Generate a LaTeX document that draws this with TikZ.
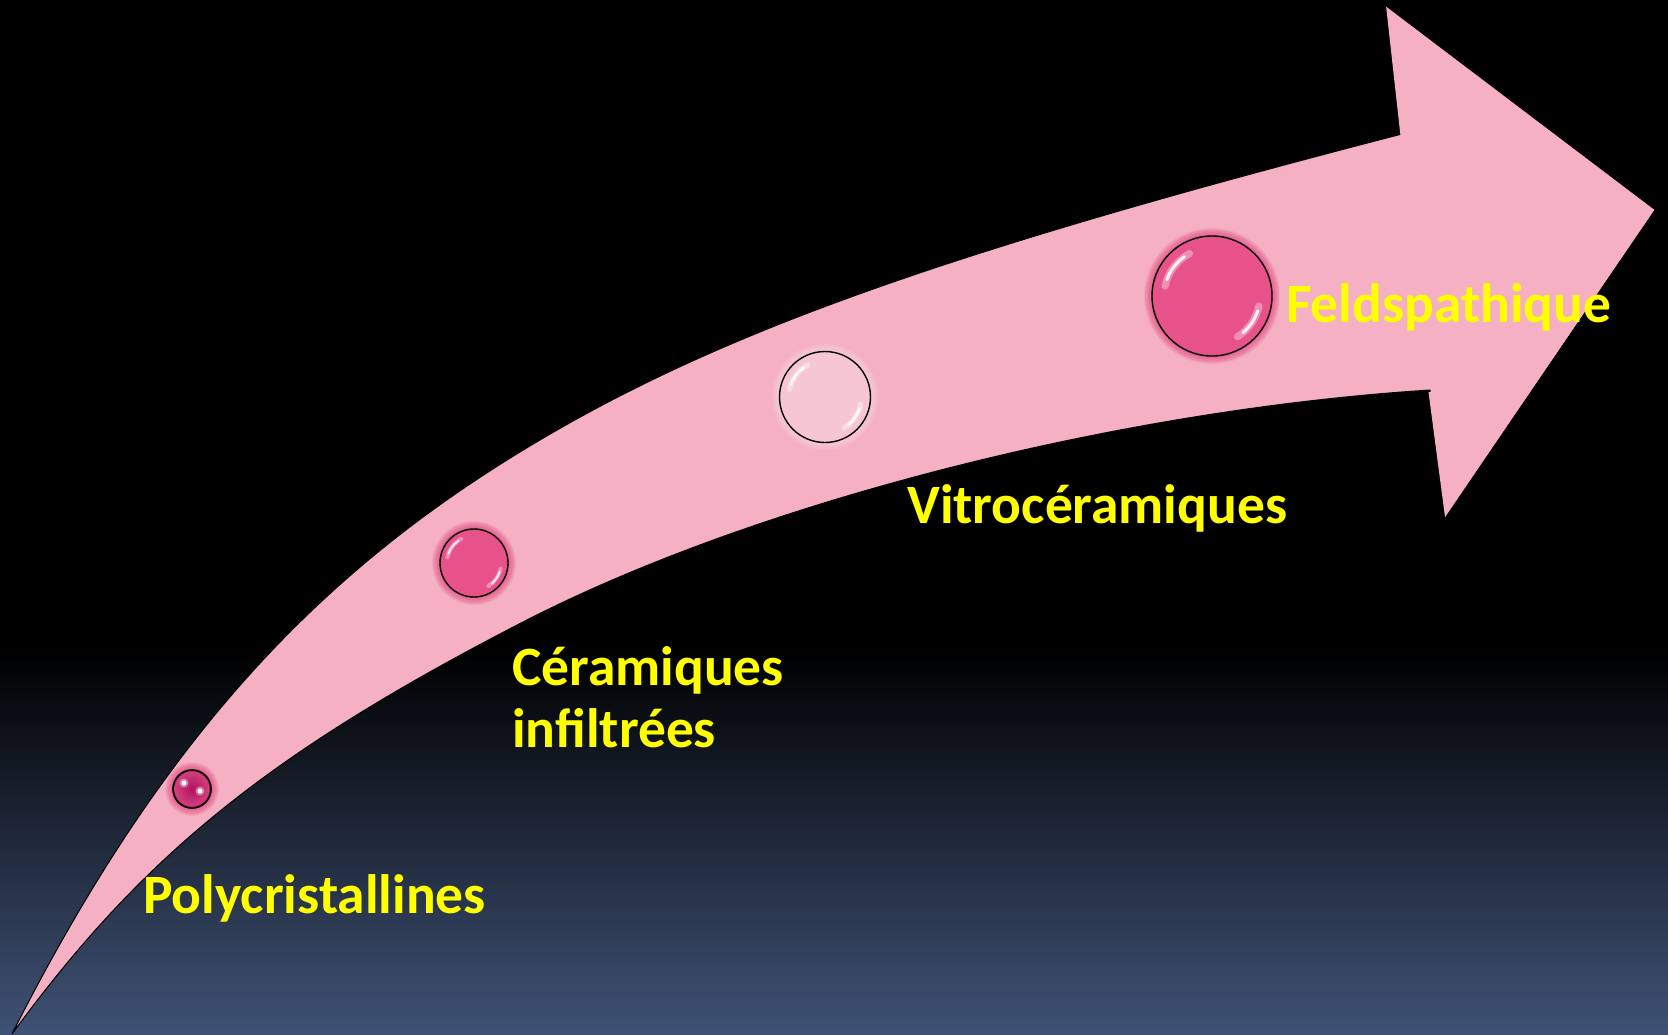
\documentclass[tikz,border=0pt]{standalone}
\usepackage{fontspec}
\setmainfont{Carlito}
\definecolor{arrowpink}{HTML}{F5B1C3}
\definecolor{bgbot}{HTML}{3F5275}
\definecolor{txtyellow}{HTML}{FFFF00}
\definecolor{beadA}{HTML}{B3115D}
\definecolor{beadAr}{HTML}{D0407F}
\definecolor{beadB}{HTML}{E8528A}
\definecolor{beadC}{HTML}{F6C7D1}
\definecolor{glowdark}{HTML}{E2457F}
\definecolor{glowlight}{HTML}{F9D5DE}
\tikzset{
  lbl/.style={text=txtyellow, font=\fontsize{55.5}{62}\selectfont\bfseries, inner sep=0pt, anchor=base west},
  hilite/.style={white, line cap=round},
}
\newcommand\mybead[4]{% center, radius, fill colour, glow colour
  \begin{scope}[shift={#1}]
    \foreach \k in {1,...,8} {\fill[#4, opacity=0.13] (0,0) circle ({#2+\k});}
    \fill[#3] (0,0) circle (#2);
    \draw[black, line width=1.4pt] (0,0) circle (#2);
  \end{scope}
}
\newcommand\myarcs[2]{% center, radius : two white reflections
  \begin{scope}[shift={#1}]
    \draw[hilite, opacity=0.35, line width={0.12*#2}] (-118:{0.8*#2}) arc (-118:-168:{0.8*#2});
    \draw[hilite, opacity=0.9, line width={0.05*#2}] (-125:{0.8*#2}) arc (-125:-160:{0.8*#2});
    \draw[hilite, opacity=0.35, line width={0.12*#2}] (12:{0.8*#2}) arc (12:58:{0.8*#2});
    \draw[hilite, opacity=0.9, line width={0.05*#2}] (18:{0.8*#2}) arc (18:50:{0.8*#2});
  \end{scope}
}
\begin{document}
\begin{tikzpicture}[x=1pt,y=-1pt]
\useasboundingbox (0,0) rectangle (1668,1034);
\fill[black] (0,0) rectangle (1668,1034);
\shade[top color=black, bottom color=bgbot] (0,650) rectangle (1668,1034);

% arrow
\coordinate (tail) at (12,1034);
\coordinate (umid) at (496,467);
\coordinate (ujoin) at (1402,134);
\coordinate (htop) at (1388,8);
\coordinate (htip) at (1655,210);
\coordinate (hbot) at (1446,516);
\coordinate (ljoin) at (1430,390);
\coordinate (lmid) at (521,623);
\filldraw[fill=arrowpink, draw=black, line width=1pt, line join=round]
  (tail) .. controls (147,767) and (292,597) .. (umid)
         .. controls (692,342) and (919,259) .. (ujoin)
  -- (htop) -- (htip) -- (hbot) -- (ljoin)
         .. controls (1116,410) and (753,503) .. (lmid)
         .. controls (269,753) and (142,856) .. (tail)
  -- cycle;
\draw[arrowpink, line width=3pt] (1402,136) -- (1388,10) -- (1652,210) -- (1446,513) -- (1430,392);

% beads
\mybead{(192,789)}{19}{beadA}{glowdark}
\shade[inner color=beadA, outer color=beadAr] (192,789) circle (17.5);
\draw[black, line width=1.4pt] (192,789) circle (19);
\fill[white, opacity=0.4] (184,783) circle (4.5);
\fill[white, opacity=0.4] (200,791) circle (4.5);
\fill[white] (184,783) circle (2.5);
\fill[white] (200,791) circle (2.5);

\mybead{(474,563)}{34}{beadB}{glowdark}
\myarcs{(474,563)}{34}
\mybead{(825,397)}{45.5}{beadC}{glowlight}
\myarcs{(825,397)}{45.5}
\mybead{(1212,296)}{60}{beadB}{glowdark}
\myarcs{(1212,296)}{60}

% labels
\node[lbl] (poly) at (143,913) {Polycristallines};
\node[lbl] (cer1) at (512,685) {Céramiques};
\node[lbl] (cer2) at (512,747) {infiltrées};
\node[lbl] (vitro) at (907,523) {Vitrocéramiques};
\node[lbl] (feld) at (1286,322) {Feldspathique};
\end{tikzpicture}
\end{document}
